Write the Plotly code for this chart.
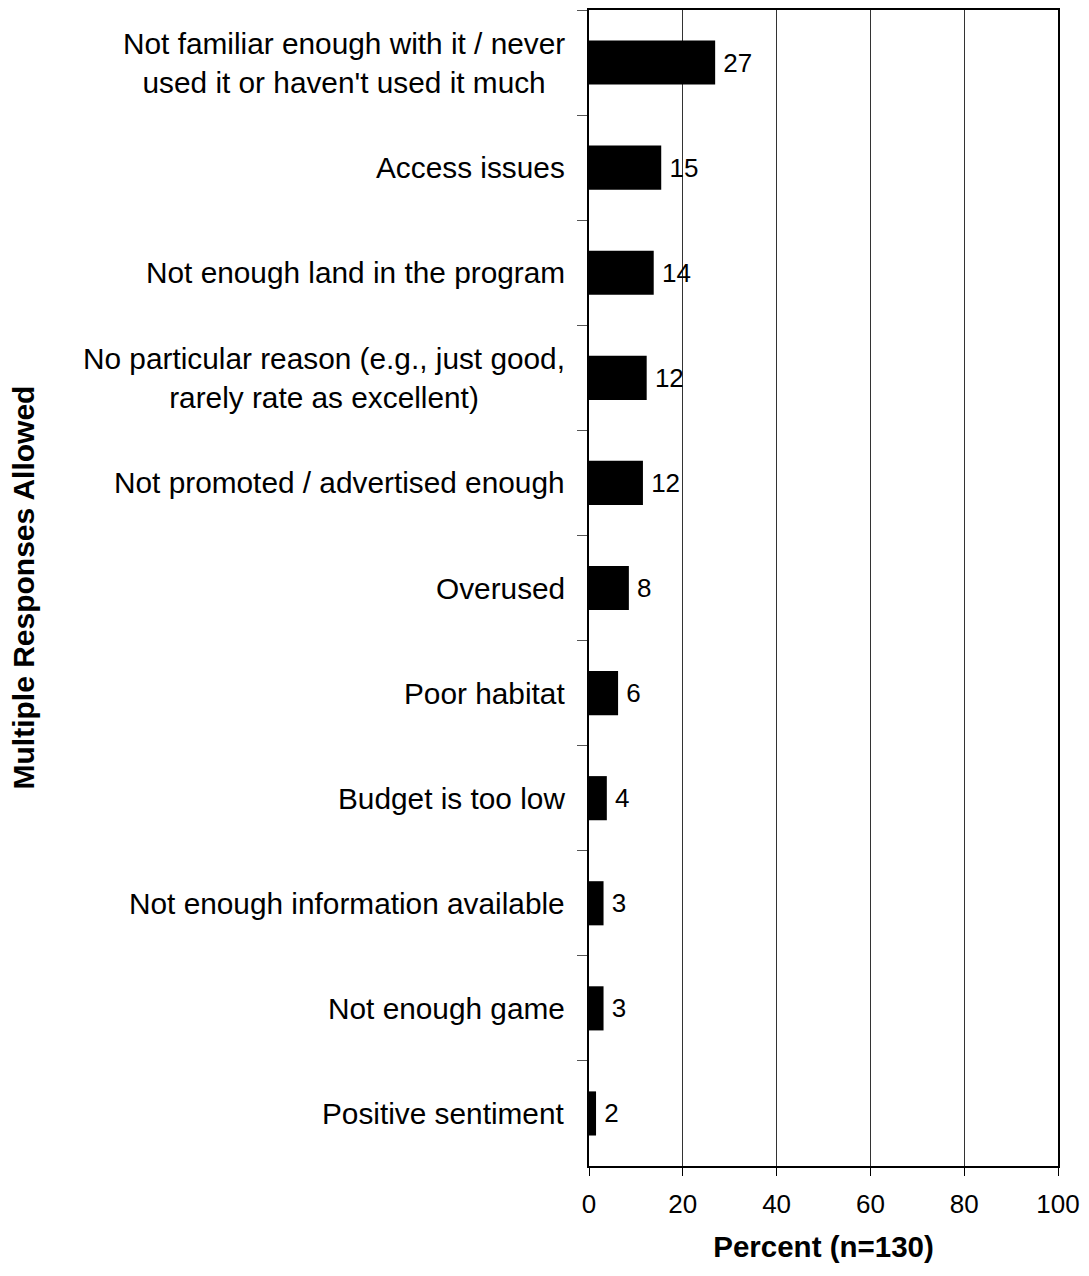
import plotly.graph_objects as go

reasons = [
    "Not familiar enough with it / never<br>used it or haven't used it much",
    "Access issues",
    "Not enough land in the program",
    "No particular reason (e.g., just good,<br>rarely rate as excellent)",
    "Not promoted / advertised enough",
    "Overused",
    "Poor habitat",
    "Budget is too low",
    "Not enough information available",
    "Not enough game",
    "Positive sentiment",
]
percents = [26.9, 15.4, 13.8, 12.3, 11.5, 8.5, 6.2, 3.8, 3.1, 3.1, 1.5]
x_ticks = [0, 20, 40, 60, 80, 100]

FONT = "Liberation Sans, Arial, sans-serif"

fig = go.Figure()
fig.add_trace(go.Bar(
    x=percents, y=reasons, orientation="h",
    marker=dict(color="black", line=dict(width=0)),
    text=["\u2009" + f"{v:.0f}" for v in percents],
    textposition="outside", cliponaxis=False,
    textfont=dict(size=26, color="black", family=FONT),
    showlegend=False,
))

# category labels as annotations so the wrapped ones centre like the original
for r in reasons:
    fig.add_annotation(
        x=0, y=r, xref="paper", yref="y",
        text=r, showarrow=False, xanchor="right", align="center",
        xshift=-22, font=dict(size=29.8, color="black", family=FONT),
    )

fig.add_annotation(
    x=0, y=0.5, xref="paper", yref="paper", xshift=-585,
    text="<b>Multiple Responses Allowed</b>", textangle=-90,
    showarrow=False, font=dict(size=30, color="black", family=FONT),
)

fig.update_layout(
    width=1073, height=1260,
    margin=dict(l=581, r=23, t=2, b=102),
    plot_bgcolor="white", paper_bgcolor="white",
    bargap=0.58,
    font=dict(family=FONT, color="black"),
    xaxis=dict(
        range=[0, 100], tickvals=x_ticks, ticks="outside", ticklen=8,
        tickcolor="black", tickfont=dict(size=26), automargin=False,
        ticklabeloverflow="allow", ticklabelstandoff=6,
        showgrid=True, gridcolor="#333", gridwidth=1,
        showline=True, linecolor="black", linewidth=2, mirror=True,
        zeroline=False,
        title=dict(text="<b>Percent (n=130)</b>", font=dict(size=29.5), standoff=18),
    ),
    yaxis=dict(
        autorange="reversed", showticklabels=False, automargin=False,
        ticks="outside", tickson="boundaries", ticklen=10, tickcolor="#555",
        showline=True, linecolor="black", linewidth=2, mirror=True,
        showgrid=False,
    ),
)

fig.write_html("out.html")
